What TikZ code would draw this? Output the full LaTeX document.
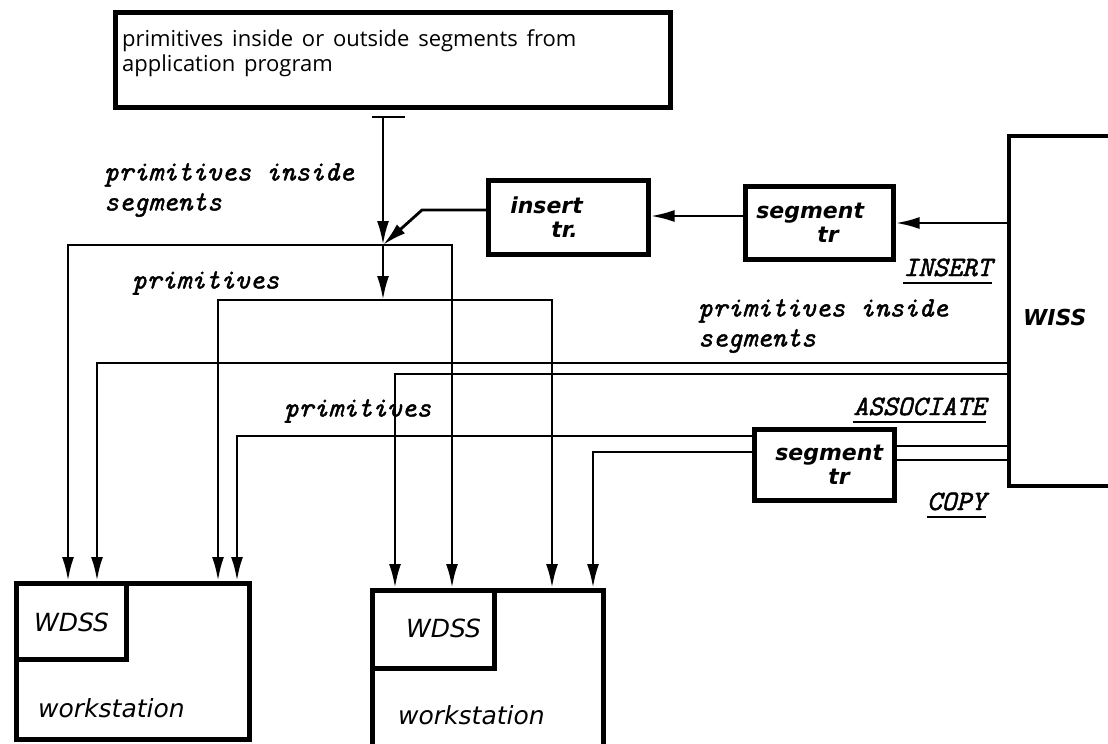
\documentclass[tikz,border=0pt]{standalone}
\usepackage{fontspec}
\setmainfont{Open Sans}
\setsansfont{DejaVu Sans}
\newfontfamily\scrfont{lmmono10-italic.otf}[FakeBold=1.6]
\newcommand\appfont{\fontsize{22}{25}\selectfont\spaceskip=0.4em\relax}
\usetikzlibrary{arrows.meta}

\tikzset{
  box/.style={draw, line width=4.5pt, inner sep=0pt, anchor=north west},
  conn/.style={line width=2.8pt},
  arr/.style={conn, -{Latex[length=24pt,width=12pt]}},
  lbl/.style={font=\scrfont\fontsize{28}{30}\selectfont, align=left, inner sep=0pt, anchor=west},
  ulbl/.style={lbl, anchor=base east},
  trbox/.style={box, font=\sffamily\bfseries\itshape\fontsize{22}{24}\selectfont, align=left, inner xsep=0pt},
  wslbl/.style={font=\sffamily\itshape\fontsize{25}{28}\selectfont, inner sep=0pt, anchor=west},
}

\begin{document}
\begin{tikzpicture}[x=1pt,y=-1pt]
\useasboundingbox (0,0) rectangle (1108,744);
\clip (0,0) rectangle (1108,744);

% source of all primitives
\node[box, minimum width=555pt, minimum height=95pt] (app) at (113,10) {};
\node[anchor=north west, align=left, inner sep=0pt, font=\appfont] (appTxt) at (122,29)
  {primitives inside or outside segments from\\application program};

% transformation boxes and WISS
\node[trbox, minimum width=160pt, minimum height=74pt, text width=160pt] (ins) at (486,178) {\hspace*{22pt}insert\\\hspace*{63pt}tr.};
\node[trbox, minimum width=148pt, minimum height=73pt, text width=148pt] (segA) at (743,184) {\hspace*{11pt}segment\\\hspace*{72pt}tr};
\node[trbox, minimum width=140pt, minimum height=71pt, text width=140pt] (segB) at (752,427) {\hspace*{21pt}segment\\\hspace*{74pt}tr};
\node[box, line width=4pt, minimum width=200pt, minimum height=350pt] (wiss) at (1007,134) {};
\node[font=\sffamily\bfseries\itshape\fontsize{22}{24}\selectfont, anchor=west, inner sep=0pt] (wissLbl) at (1023,317) {WISS};

% workstations
\node[box, minimum width=233pt, minimum height=156pt] (wsA) at (14,581) {};
\node[box, minimum width=110pt, minimum height=76pt] (wdssA) at (14,581) {};
\node[wslbl] (wdssAlbl) at (34,622) {WDSS};
\node[wslbl] (wsAlbl) at (38,708) {workstation};
\node[box, minimum width=231pt, minimum height=156pt] (wsB) at (370,588) {};
\node[box, minimum width=122pt, minimum height=78pt] (wdssB) at (370,588) {};
\node[wslbl] (wdssBlbl) at (406,628) {WDSS};
\node[wslbl] (wsBlbl) at (398,715) {workstation};

% junctions
\coordinate (src) at (383,118);
\coordinate (jA) at (383,245);
\coordinate (jB) at (383,300);
\coordinate (bend) at (422,210);

% primitives from the application program
\draw[line width=1.2pt] (372,117) -- (405,117);
\draw[arr] (src) -- (jA);
\draw[arr] (jA) -- (jB);
\draw[arr] (jA) -| (wsA.north -| 68,0);
\draw[arr] (jA) -| (wsB.north -| 452,0);
\draw[arr] (jB) -| (wsA.north -| 218,0);
\draw[arr] (jB) -| (wsB.north -| 552,0);

% INSERT path
\draw[arr] (wiss.west |- 0,223) -- (segA.east |- 0,223);
\draw[arr] (segA.west |- 0,216) -- (ins.east |- 0,216);
\draw[arr] (ins.west |- 0,210) -- (bend) -- (jA);

% ASSOCIATE and COPY paths
\draw[arr] (wiss.west |- 0,363) -| (wsA.north -| 97,0);
\draw[arr] (wiss.west |- 0,374) -| (wsB.north -| 395,0);
\draw[conn] (wiss.west |- 0,446) -- (segB.east |- 0,446);
\draw[conn] (wiss.west |- 0,460) -- (segB.east |- 0,460);
\draw[arr] (segB.west |- 0,436) -| (wsA.north -| 237,0);
\draw[arr] (segB.west |- 0,452) -| (wsB.north -| 593,0);

% labels
\node[lbl] (pisL) at (104,190) {primitives inside\\segments};
\node[lbl] (primA) at (132,283) {primitives};
\node[lbl] (pisR) at (698,326) {primitives inside\\segments};
\node[lbl] (primB) at (284,411) {primitives};
\node[ulbl] (insertLbl) at (992,276) {INSERT};
\node[ulbl] (assocLbl) at (986,415) {ASSOCIATE};
\node[ulbl] (copyLbl) at (986,510) {COPY};
\foreach \l in {insertLbl,assocLbl,copyLbl}
  \draw[line width=1.6pt] ([yshift=-7pt]\l.base west) -- ([yshift=-7pt]\l.base east);

\end{tikzpicture}
\end{document}
